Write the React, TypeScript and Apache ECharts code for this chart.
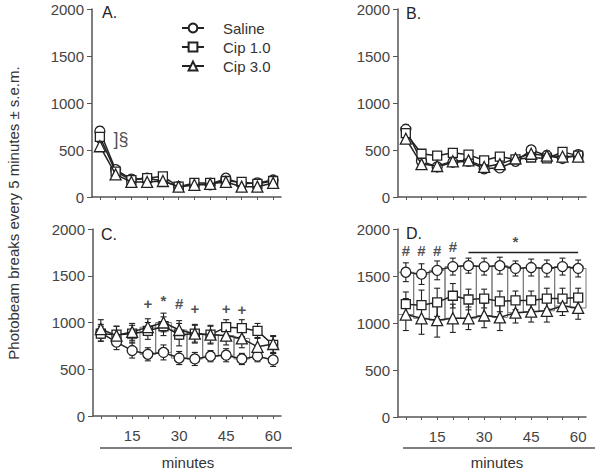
import React, { useEffect, useRef } from "react";
import * as echarts from "echarts";

const minutes = ["5", "10", "15", "20", "25", "30", "35", "40", "45", "50", "55", "60"];
const xTickLabels = ["15", "30", "45", "60"];
const seriesNames = ["Saline", "Cip 1.0", "Cip 3.0"];

// Panel A
const aSaline = [700, 290, 190, 200, 170, 110, 130, 130, 200, 140, 150, 180];
const aCip1 = [640, 270, 180, 200, 220, 110, 150, 150, 170, 160, 140, 170];
const aCip3 = [540, 240, 160, 160, 170, 110, 130, 140, 160, 110, 110, 150];
const aSalineSem = [50, 30, 20, 20, 20, 15, 15, 15, 20, 15, 15, 20];
const aCip1Sem = [50, 30, 20, 20, 20, 15, 15, 15, 20, 15, 15, 20];
const aCip3Sem = [40, 30, 20, 20, 20, 15, 15, 15, 20, 15, 15, 20];

// Panel B
const bSaline = [720, 380, 320, 370, 380, 300, 310, 380, 500, 440, 410, 450];
const bCip1 = [680, 460, 440, 470, 450, 390, 430, 400, 420, 410, 480, 440];
const bCip3 = [620, 350, 330, 380, 390, 320, 350, 410, 460, 440, 430, 430];
const bSalineSem = [50, 40, 30, 40, 30, 30, 30, 40, 40, 50, 40, 30];
const bCip1Sem = [50, 40, 30, 40, 30, 30, 30, 30, 40, 40, 40, 30];
const bCip3Sem = [50, 40, 30, 40, 30, 30, 30, 30, 40, 40, 40, 30];

// Panel C
const cSaline = [890, 790, 700, 660, 680, 620, 610, 640, 650, 610, 640, 600];
const cCip1 = [880, 870, 880, 910, 960, 870, 880, 870, 950, 940, 910, 760];
const cCip3 = [930, 860, 900, 950, 1000, 920, 880, 870, 860, 830, 740, 770];
const cSalineSem = [90, 80, 80, 70, 80, 70, 70, 60, 70, 60, 60, 70];
const cCip1Sem = [80, 90, 90, 90, 100, 120, 100, 90, 80, 90, 80, 90];
const cCip3Sem = [100, 100, 90, 90, 100, 100, 90, 100, 100, 100, 100, 90];
const cBoxIdx = [3, 4, 5, 6, 7, 8, 9];
const cMarkIdx = [3, 4, 5, 6, 8, 9];
const cMarkVal = [1205, 1233, 1205, 1152, 1152, 1134];
const cMarkText = ["+", "*", "#", "+", "+", "+"];

// Panel D
const dSaline = [1540, 1520, 1560, 1600, 1610, 1600, 1610, 1580, 1590, 1580, 1600, 1580];
const dCip1 = [1200, 1190, 1220, 1290, 1250, 1260, 1230, 1240, 1240, 1260, 1260, 1270];
const dCip3 = [1090, 1050, 1030, 1050, 1050, 1080, 1060, 1110, 1120, 1130, 1180, 1160];
const dSalineSem = [100, 110, 100, 90, 80, 90, 90, 80, 90, 90, 90, 90];
const dCip1Sem = [130, 160, 150, 130, 110, 100, 110, 100, 100, 110, 110, 100];
const dCip3Sem = [170, 170, 180, 150, 120, 130, 140, 110, 110, 120, 100, 120];
const dBoxIdx = [0, 1, 2, 3, 4, 5, 6, 7, 8, 9, 10, 11];
const dMarkIdx = [0, 1, 2, 3, 7];
const dMarkVal = [1776, 1776, 1776, 1811, 1865];
const dMarkText = ["#", "#", "#", "#", "*"];
const dBarFrom = 4;
const dBarTo = 11;
const dBarVal = 1750;

const aSectionIdx = 0;
const aSectionVal = 617;
const aSectionText = "]§";

const FONT = "Liberation Sans, Arial, sans-serif";
const INK = "#222";

const symbols = ["circle", "rect", "triangle"];
const symbolSizes = [10, 9, 11];

function errorBarRender(params: any, api: any) {
  const x = api.value(0);
  const v = api.value(1);
  const e = api.value(2);
  const top = api.coord([x, v + e]);
  const bot = api.coord([x, v - e]);
  const hw = 3;
  const style = { stroke: INK, lineWidth: 1.1 };
  return {
    type: "group",
    children: [
      { type: "line", shape: { x1: top[0], y1: top[1], x2: bot[0], y2: bot[1] }, style },
      { type: "line", shape: { x1: top[0] - hw, y1: top[1], x2: top[0] + hw, y2: top[1] }, style },
      { type: "line", shape: { x1: bot[0] - hw, y1: bot[1], x2: bot[0] + hw, y2: bot[1] }, style },
    ],
  };
}

function boxRender(params: any, api: any) {
  const x = api.value(0);
  const hi = api.value(1);
  const lo = api.value(2);
  const w = api.size([1, 0])[0];
  const p1 = api.coord([x, hi]);
  const p2 = api.coord([x, lo]);
  return {
    type: "rect",
    shape: { x: p1[0] - w / 2, y: p1[1], width: w, height: p2[1] - p1[1] },
    style: { fill: "none", stroke: "#7a7a7a", lineWidth: 1 },
  };
}

function panelSeries(gi: number, groups: number[][], sems: number[][]) {
  const out: any[] = [];
  const ebData: any[] = [];
  groups.forEach((vals, g) => {
    vals.forEach((v, i) => ebData.push([i, v, sems[g][i]]));
  });
  out.push({
    type: "custom",
    xAxisIndex: gi,
    yAxisIndex: gi,
    renderItem: errorBarRender,
    encode: { x: 0, y: 1 },
    data: ebData,
    z: 2,
    silent: true,
  });
  groups.forEach((vals, g) => {
    out.push({
      type: "line",
      name: seriesNames[g],
      xAxisIndex: gi,
      yAxisIndex: gi,
      data: vals,
      symbol: symbols[g],
      symbolSize: symbolSizes[g],
      showAllSymbol: true,
      lineStyle: { color: INK, width: 1.5 },
      itemStyle: { color: "#fff", borderColor: INK, borderWidth: 1.3 },
      z: 3 + g,
    });
  });
  return out;
}

function boxSeries(gi: number, idx: number[], hi: number[], lo1: number[], lo2: number[]) {
  return {
    type: "custom",
    xAxisIndex: gi,
    yAxisIndex: gi,
    renderItem: boxRender,
    encode: { x: 0, y: 1 },
    data: idx.map((i) => [i, hi[i], Math.min(lo1[i], lo2[i])]),
    z: 1,
    silent: true,
  };
}

function markSeries(gi: number, idx: number[], vals: number[], texts: string[], fontSize: number, extra: any = {}) {
  return {
    type: "scatter",
    xAxisIndex: gi,
    yAxisIndex: gi,
    symbolSize: 1,
    itemStyle: { color: "rgba(0,0,0,0)" },
    data: idx.map((i, k) => ({ value: [i, vals[k]], name: texts[k] })),
    label: {
      show: true,
      position: "inside",
      formatter: (p: any) => p.name,
      fontFamily: FONT,
      fontSize,
      fontWeight: "bold",
      color: INK,
      ...extra,
    },
    z: 6,
    silent: true,
  };
}

const grids = [
  { left: 92, top: 9, width: 189, height: 188 },
  { left: 398, top: 9, width: 188, height: 188 },
  { left: 93, top: 229, width: 188, height: 187 },
  { left: 398, top: 229, width: 188, height: 188 },
];

export default function App() {
  const ref = useRef<HTMLDivElement>(null);
  useEffect(() => {
    if (!ref.current) return;
    const chart = echarts.init(ref.current, undefined, { renderer: "svg" });

    const xAxes = grids.map((_, gi) => ({
      type: "category",
      gridIndex: gi,
      data: minutes,
      boundaryGap: true,
      axisLine: { show: true, lineStyle: { color: "#555", width: 1.5 } },
      axisTick: { show: true, alignWithLabel: true, interval: 0, length: 3, lineStyle: { color: "#555" } },
      axisLabel: {
        show: gi >= 2,
        interval: 0,
        margin: 12,
        fontFamily: FONT,
        fontSize: 15,
        color: "#444",
        formatter: (v: string) => (xTickLabels.indexOf(v) >= 0 ? v : ""),
      },
      splitLine: { show: false },
    }));
    const yAxes = grids.map((_, gi) => ({
      type: "value",
      gridIndex: gi,
      min: 0,
      max: 2000,
      interval: 500,
      axisLine: { show: true, lineStyle: { color: "#555", width: 1.5 } },
      axisTick: { show: true, length: 5, lineStyle: { color: "#555" } },
      axisLabel: {
        margin: 8,
        fontFamily: FONT,
        fontSize: 15,
        color: "#444",
        formatter: (v: number) => String(v),
      },
      splitLine: { show: false },
    }));

    const series: any[] = [
      ...panelSeries(0, [aSaline, aCip1, aCip3], [aSalineSem, aCip1Sem, aCip3Sem]),
      ...panelSeries(1, [bSaline, bCip1, bCip3], [bSalineSem, bCip1Sem, bCip3Sem]),
      ...panelSeries(2, [cSaline, cCip1, cCip3], [cSalineSem, cCip1Sem, cCip3Sem]),
      ...panelSeries(3, [dSaline, dCip1, dCip3], [dSalineSem, dCip1Sem, dCip3Sem]),
      boxSeries(2, cBoxIdx, cCip3, cSaline, cSaline),
      boxSeries(3, dBoxIdx, dSaline, dCip1, dCip3),
      markSeries(2, cMarkIdx, cMarkVal, cMarkText, 15),
      markSeries(3, dMarkIdx, dMarkVal, dMarkText, 15),
      markSeries(0, [aSectionIdx], [aSectionVal], [aSectionText], 18, { fontWeight: "normal", offset: [21, 0] }),
      {
        type: "line",
        xAxisIndex: 3,
        yAxisIndex: 3,
        data: [
          [dBarFrom, dBarVal],
          [dBarTo, dBarVal],
        ],
        symbol: "none",
        lineStyle: { color: INK, width: 1.3 },
        z: 6,
        silent: true,
      },
    ];

    const panelLabel = (text: string, x: number, y: number) => ({
      type: "text",
      left: x,
      top: y,
      style: { text, fontFamily: FONT, fontSize: 16, fill: INK },
    });

    chart.setOption({
      animation: false,
      grid: grids,
      xAxis: xAxes,
      yAxis: yAxes,
      legend: {
        data: seriesNames,
        orient: "vertical",
        left: 176,
        top: 15,
        itemWidth: 22,
        itemHeight: 11,
        itemGap: 3,
        textStyle: {
          fontFamily: FONT,
          fontSize: 15,
          fontWeight: "normal",
          color: "#333",
          padding: [0, 0, 0, 14],
          lineHeight: 16,
        },
      },
      series,
      graphic: [
        panelLabel("A.", 102, 4),
        panelLabel("B.", 406, 5),
        panelLabel("C.", 101, 226),
        panelLabel("D.", 406, 225),
        {
          type: "text",
          x: 13,
          y: 213,
          rotation: Math.PI / 2,
          style: {
            text: "Photobeam breaks every 5 minutes ± s.e.m.",
            fontFamily: FONT,
            fontSize: 15,
            fill: "#333",
            textAlign: "center",
            textVerticalAlign: "middle",
          },
        },
        { type: "line", shape: { x1: 100, y1: 448, x2: 292, y2: 448 }, style: { stroke: "#555", lineWidth: 1.5 } },
        { type: "line", shape: { x1: 403, y1: 448, x2: 595, y2: 448 }, style: { stroke: "#555", lineWidth: 1.5 } },
        {
          type: "text",
          x: 188,
          y: 462,
          style: { text: "minutes", fontFamily: FONT, fontSize: 15, fill: "#333", textAlign: "center", textVerticalAlign: "middle" },
        },
        {
          type: "text",
          x: 497,
          y: 462,
          style: { text: "minutes", fontFamily: FONT, fontSize: 15, fill: "#333", textAlign: "center", textVerticalAlign: "middle" },
        },
      ],
    });
    return () => chart.dispose();
  }, []);
  return <div ref={ref} style={{ position: "absolute", left: 0, top: 0, width: 601, height: 471 }} />;
}
